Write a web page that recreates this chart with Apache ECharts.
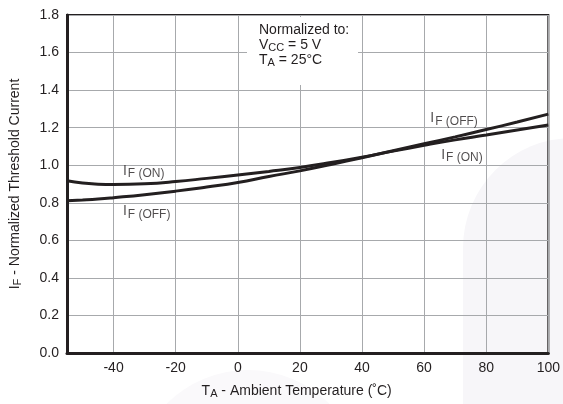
<!DOCTYPE html>
<html>
<head>
<meta charset="utf-8">
<script src="https://cdn.jsdelivr.net/npm/echarts@6/dist/echarts.min.js"></script>
<style>
html,body{margin:0;padding:0;background:#fff;}
#c{width:563px;height:404px;}
</style>
</head>
<body>
<div id="c"></div>
<script>
// Temperature (°C)
var temps = [-55, -50, -45, -40, -30, -20, -10, 0, 10, 20, 30, 40, 50, 60, 70, 80, 90, 100];
// Normalized threshold current, I_F(ON)
var ifOn  = [0.917, 0.905, 0.899, 0.897, 0.901, 0.913, 0.930, 0.948, 0.967, 0.988, 1.014, 1.043, 1.075, 1.106, 1.135, 1.161, 1.188, 1.214];
// Normalized threshold current, I_F(OFF)
var ifOff = [0.811, 0.815, 0.820, 0.827, 0.843, 0.862, 0.884, 0.908, 0.940, 0.970, 1.004, 1.040, 1.077, 1.114, 1.151, 1.190, 1.230, 1.272];
// Tick labels
var xTicks = [-40, -20, 0, 20, 40, 60, 80, 100];
var yTicks = [0.0, 0.2, 0.4, 0.6, 0.8, 1.0, 1.2, 1.4, 1.6, 1.8];
// Curve labels: [temp, value, subscript]
var curveLabels = [
  [-37, 0.97, 'F (ON)'],
  [-37, 0.755, 'F (OFF)'],
  [62, 1.25, 'F (OFF)'],
  [65.5, 1.055, 'F (ON)']
];

function pairs(xs, ys){ return xs.map(function(x,i){ return [x, ys[i]]; }); }

var FONT = '"Liberation Sans", Arial, Helvetica, sans-serif';
var INK = '#231f20';
var subRich = {a:{fontSize:14, fontFamily:FONT, fill:INK, color:INK}, b:{fontSize:11, fontFamily:FONT, fill:INK, color:INK, padding:[5,0,0,0]}};

var chart = echarts.init(document.getElementById('c'), null, {renderer:'canvas'});
chart.setOption({
  animation: false,
  backgroundColor: '#ffffff',
  textStyle: {fontFamily: FONT, color: INK},
  graphic: [
    {type:'rect', z:-10, silent:true,
     shape:{x:463, y:138, width:140, height:300, r:[110,0,0,0]},
     style:{fill:'#f7f6f9'}},
    {type:'circle', z:-10, silent:true,
     shape:{cx:248, cy:485, r:115},
     style:{fill:'#faf9fb'}},
    {type:'rect', z:50, silent:true,
     shape:{x:247, y:17, width:111, height:68},
     style:{fill:'#ffffff'}},
    {type:'text', z:51, left:259, top:23,
     style:{text:'Normalized to:', font:'14px ' + FONT, fill:INK}},
    {type:'text', z:51, left:259, top:38,
     style:{text:'{a|V}{b|CC}{a| = 5 V}', font:'14px ' + FONT, fill:INK, rich:subRich}},
    {type:'text', z:51, left:259, top:53,
     style:{text:'{a|T}{b|A}{a| = 25°C}', font:'14px ' + FONT, fill:INK, rich:subRich}}
  ],
  grid: {left:66, right:14, top:15, bottom:51, show:true, borderColor:INK, borderWidth:2, backgroundColor:'transparent'},
  xAxis: {
    type:'value', min:-55, max:100,
    axisLine:{show:true, onZero:false, lineStyle:{color:INK, width:3}},
    axisTick:{show:false, customValues: xTicks},
    axisLabel:{customValues: xTicks, fontSize:14, color:INK, margin:8, fontFamily:FONT},
    splitLine:{show:true, lineStyle:{color:'#a7a9ac', width:1}},
    name:'{a|T}{b|A}{a| - Ambient Temperature (˚C)}',
    nameLocation:'middle', nameGap:30,
    nameTextStyle:{padding:[0,22,0,0], rich:subRich}
  },
  yAxis: {
    type:'value', min:0, max:1.8, interval:0.2,
    axisLine:{show:true, onZero:false, lineStyle:{color:INK, width:3}},
    axisTick:{show:false},
    axisLabel:{fontSize:14, color:INK, margin:8, fontFamily:FONT,
      formatter:function(v){ return v.toFixed(1); }},
    splitLine:{show:true, lineStyle:{color:'#a7a9ac', width:1}},
    name:'{a|I}{b|F}{a| - Normalized Threshold Current}',
    nameLocation:'middle', nameGap:44,
    nameTextStyle:{rich:subRich}
  },
  series: [
    {name:'IF(ON)', type:'line', data:pairs(temps, ifOn), smooth:true, symbol:'none',
     lineStyle:{color:INK, width:3}, z:5},
    {name:'IF(OFF)', type:'line', data:pairs(temps, ifOff), smooth:true, symbol:'none',
     lineStyle:{color:INK, width:3}, z:5},
    {name:'labels', type:'scatter', symbolSize:0, z:6,
     data: curveLabels.map(function(d){ return {value:[d[0], d[1]], sub:d[2]}; }),
     label:{show:true, position:[0,0], align:'left', verticalAlign:'middle',
       formatter:function(p){ return '{a|I}{b|' + p.data.sub + '}'; },
       rich:{a:{fontSize:14, color:INK, fontFamily:FONT}, b:{fontSize:12, color:INK, fontFamily:FONT, padding:[6,0,0,1]}}}}
  ]
});
</script>
</body>
</html>
